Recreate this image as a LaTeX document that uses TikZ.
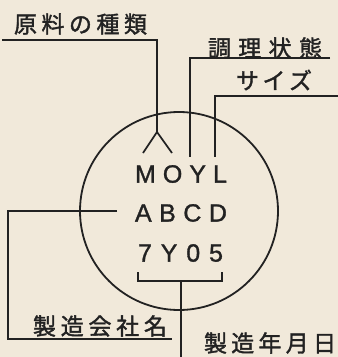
\documentclass[tikz,border=0pt]{standalone}
\usepackage{fontspec}
\setmainfont{Liberation Sans}
\newfontfamily\codefont[FakeBold=1.2]{Liberation Sans}
\newfontfamily\jpfont[FakeBold=1.6]{Noto Sans CJK JP}
\definecolor{paper}{HTML}{F1E9DA}
\definecolor{ink}{HTML}{222222}
\newcommand{\spread}[2]{\makebox[#1][s]{#2}}

\begin{document}
\begin{tikzpicture}[x=1pt,y=-1pt,
    jlabel/.style={inner sep=0pt,text=ink,font=\jpfont\fontsize{23}{23}\selectfont},
    code/.style={inner sep=0pt,text=ink,font=\codefont\fontsize{25}{25}\selectfont},
    lead/.style={draw=ink,line width=1.7pt}]
    \fill[paper] (0,0) rectangle (338,357);
    \useasboundingbox (0,0) rectangle (338,357);
    % cap outline
    \node[circle,draw=ink,line width=1.8pt,minimum size=198pt,inner sep=0pt] (cap) at (179,211) {};
    % code letters
    \node[code] (row1) at (181,174) {\spread{92pt}{M\hfill O\hfill Y\hfill L}};
    \node[code] (row2) at (181,213) {\spread{92pt}{A\hfill B\hfill C\hfill D}};
    \node[code] (row3) at (180.5,253) {\spread{85pt}{7\hfill Y\hfill 0\hfill 5}};
    % labels
    \node[jlabel] (raw) at (80.5,24) {\spread{133pt}{原\hfill 料\hfill の\hfill 種\hfill 類}};
    \node[jlabel] (state) at (265,48) {\spread{114pt}{調\hfill 理\hfill 状\hfill 態}};
    \node[jlabel] (size) at (274,80) {\spread{76pt}{サ\hfill イ\hfill ズ}};
    \node[jlabel] (maker) at (100,326) {\spread{134pt}{製\hfill 造\hfill 会\hfill 社\hfill 名}};
    \node[jlabel] (date) at (270,343) {\spread{132pt}{製\hfill 造\hfill 年\hfill 月\hfill 日}};
    % leader lines
    \coordinate (rawA) at (157,132);
    \draw[lead] (2,40) -- (157,40) -- (rawA);
    \draw[lead] (143,153) -- (rawA) -- (172,153);
    \draw[lead] (330,58) -- (190,58) -- (190,157);
    \draw[lead] (338,96) -- (215,96) -- (215,157);
    \coordinate (makerA) at (117,211);
    \draw[lead] (makerA) -- (8,211) -- (8,339) -- (172,339);
    \coordinate (dateA) at (181,281);
    \draw[lead] (138,272) -- (138,281) -- (222,281) -- (222,272);
    \draw[lead] (dateA) -- (181,357);
\end{tikzpicture}
\end{document}
